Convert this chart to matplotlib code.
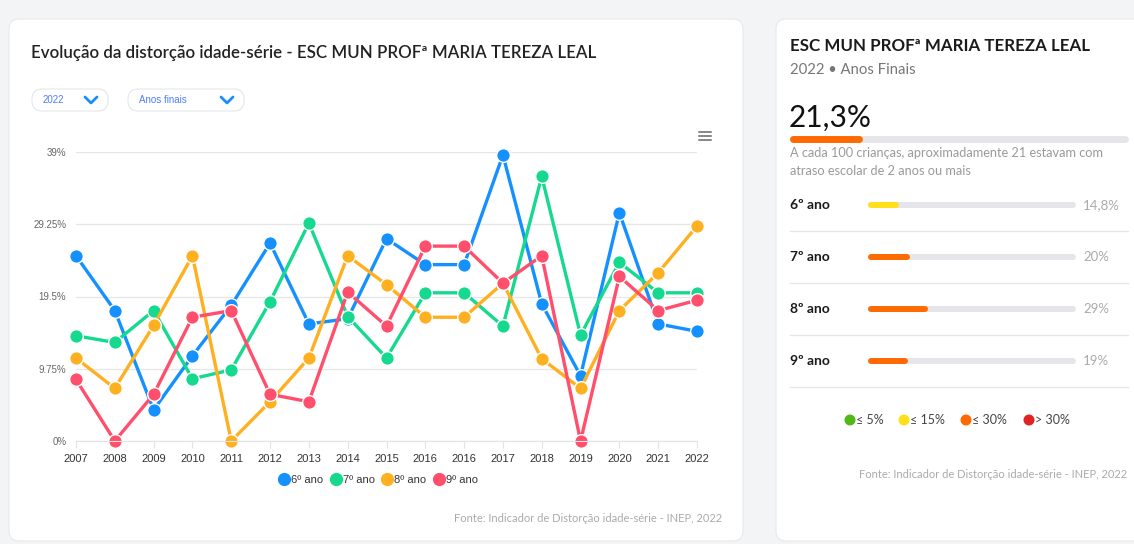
import matplotlib
matplotlib.use("Agg")
import matplotlib.pyplot as plt
from matplotlib.patches import FancyBboxPatch, Circle
from matplotlib.lines import Line2D

# ---------------- data ----------------
years = ["2007", "2008", "2009", "2010", "2011", "2012", "2013", "2014", "2015",
         "2016", "2016", "2017", "2018", "2019", "2020", "2021", "2022"]
ano6 = [25.0, 17.6, 4.2, 11.5, 18.3, 26.7, 15.8, 16.5, 27.3, 23.8, 23.8, 38.6, 18.5, 8.8, 30.8, 15.8, 14.8]
ano7 = [14.2, 13.3, 17.6, 8.4, 9.6, 18.8, 29.4, 16.8, 11.2, 20.0, 20.0, 15.5, 35.7, 14.3, 24.1, 20.0, 20.0]
ano8 = [11.2, 7.1, 15.6, 25.0, 0.0, 5.3, 11.2, 25.0, 21.1, 16.7, 16.7, 21.3, 11.1, 7.1, 17.6, 22.7, 29.0]
ano9 = [8.3, 0.0, 6.3, 16.7, 17.6, 6.3, 5.3, 20.1, 15.5, 26.3, 26.3, 21.3, 25.0, 0.0, 22.2, 17.6, 19.0]
series_names = ["6º ano", "7º ano", "8º ano", "9º ano"]
series_colors = ["#1491ff", "#14d98f", "#ffb020", "#ff4f6d"]
y_ticks = [0, 9.75, 19.5, 29.25, 39]
y_tick_labels = ["0%", "9.75%", "19.5%", "29.25%", "39%"]

school = "ESC MUN PROFª MARIA TEREZA LEAL"
total_2022 = 21.3
grades = ["6º ano", "7º ano", "8º ano", "9º ano"]
grade_values = [14.8, 20, 29, 19]
level_labels = ["≤ 5%", "≤ 15%", "≤ 30%", "> 30%"]
level_limits = [5, 15, 30, 1000]
level_colors = ["#52b81a", "#ffe01a", "#ff6a00", "#e02424"]

W, H = 1134, 544
fig = plt.figure(figsize=(W / 100, H / 100), dpi=100)
fig.patch.set_facecolor("#f3f4f6")

# overlay in pixel coordinates
bg = fig.add_axes([0, 0, 1, 1], zorder=0)
bg.set_xlim(0, W)
bg.set_ylim(H, 0)
bg.axis("off")

def card(x0, y0, x1, y1):
    bg.add_patch(FancyBboxPatch((x0, y0), x1 - x0, y1 - y0,
                                boxstyle="round,pad=0,rounding_size=10",
                                fc="white", ec="#e6e8ec", lw=0.8))

card(9, 19, 743, 541)
card(776, 19, 1150, 541)

FONT = ["Lato", "DejaVu Sans"]
TFONT = ["Liberation Sans", "DejaVu Sans"]

# ---------------- left card ----------------
bg.text(31, 53, "Evolução da distorção idade-série - " + school, fontsize=12.2,
        fontweight="semibold", color="#222222", family=FONT, va="center", ha="left")

def dropdown(x0, x1, label):
    bg.add_patch(FancyBboxPatch((x0, 89), x1 - x0, 22,
                                boxstyle="round,pad=0,rounding_size=10",
                                fc="white", ec="#e3e6ea", lw=0.8))
    bg.text(x0 + 11, 100, label, fontsize=7, color="#4f7dff", family=TFONT,
            va="center", ha="left")
    cx = x1 - 17
    bg.plot([cx - 6, cx, cx + 6], [97, 103, 97], color="#1a8cff", lw=2,
            solid_capstyle="round", solid_joinstyle="round")

dropdown(32, 108, "2022")
dropdown(128, 244, "Anos finais")

for yy in (132, 136, 140):
    bg.plot([699, 711], [yy, yy], color="#666666", lw=1.1)

bg.text(722, 518, "Fonte: Indicador de Distorção idade-série - INEP, 2022",
        fontsize=8, color="#aaaaaa", family=FONT, ha="right", va="center")

# chart axes
x0p, x1p, ytop, ybot = 76, 697, 152, 441
ax = fig.add_axes([x0p / W, (H - ybot) / H, (x1p - x0p) / W, (ybot - ytop) / H], zorder=2)
ax.patch.set_alpha(0)
xs = list(range(len(years)))
for vals, name, col in zip([ano6, ano7, ano8, ano9], series_names, series_colors):
    ax.plot(xs, vals, color=col, lw=2.4, marker="o", ms=9.8, mfc=col, mec="white",
            mew=1.0, clip_on=False, label=name, solid_joinstyle="round")
ax.set_xlim(0, len(years) - 1)
ax.set_ylim(0, 39)
ax.set_yticks(y_ticks)
ax.set_yticklabels(y_tick_labels, fontsize=7, color="#666666", family=TFONT)
ax.set_xticks(xs)
ax.set_xticklabels(years, fontsize=8, color="#333333", family=TFONT)
ax.grid(axis="y", color="#e6e6e6", lw=0.9)
ax.set_axisbelow(True)
for s in ("top", "right", "left"):
    ax.spines[s].set_visible(False)
ax.spines["bottom"].set_color("#dfe3ea")
ax.tick_params(axis="y", length=0, pad=7)
ax.tick_params(axis="x", length=5, color="#dfe3ea", pad=4)

handles = [Line2D([], [], ls="none", marker="o", ms=8.5, mfc=c, mec=c) for c in series_colors]
fig.legend(handles, series_names, loc="center", bbox_to_anchor=(378 / W, 1 - 480 / H),
           ncol=4, frameon=False, handletextpad=0.05, columnspacing=0.6,
           prop={"family": TFONT, "size": 8}, labelcolor="#333333", handlelength=1.1)

# ---------------- right card ----------------
bg.text(790, 46, school, fontsize=12.2, fontweight="bold", color="#1a1a1a",
        family=FONT, va="center", ha="left")
bg.text(790, 70, "2022 • Anos Finais", fontsize=10.7, color="#777777",
        family=FONT, va="center", ha="left")
bg.text(789, 118, f"{total_2022:.1f}%".replace(".", ","), fontsize=21.5, color="#111111",
        family=FONT, va="center", ha="left")

def level_color(v):
    for lim, c in zip(level_limits, level_colors):
        if v <= lim:
            return c
    return level_colors[-1]

def pbar(xa, xb, y, frac, color, lw):
    r = lw * 100 / 72 / 2
    bg.plot([xa + r, xb - r], [y, y], color="#e6e6ea", lw=lw, solid_capstyle="round")
    xe = xa + (xb - xa) * frac
    bg.plot([xa + r, max(xe - r, xa + r + 0.1)], [y, y], color=color, lw=lw,
            solid_capstyle="round")

pbar(790, 1128, 139, total_2022 / 100, level_color(total_2022), 5.0)
bg.text(790, 153, "A cada 100 crianças, aproximadamente 21 estavam com",
        fontsize=9.2, color="#9a9a9a", family=FONT, va="center", ha="left")
bg.text(790, 171, "atraso escolar de 2 anos ou mais",
        fontsize=9.2, color="#9a9a9a", family=FONT, va="center", ha="left")

row_y = [205, 257, 309, 361]
for g, v, yy in zip(grades, grade_values, row_y):
    bg.text(790, yy, g, fontsize=10, fontweight="bold", color="#1a1a1a",
            family=FONT, va="center", ha="left")
    pbar(868, 1076, yy, v / 100, level_color(v), 4.3)
    lab = (f"{v:.1f}%" if v != int(v) else f"{int(v)}%").replace(".", ",")
    bg.text(1083, yy, lab, fontsize=9.5, color="#aaaaaa", family=FONT,
            va="center", ha="left")
    bg.plot([790, 1128], [yy + 26, yy + 26], color="#e6e6e6", lw=0.9)

leg_x = [850, 904, 966, 1029]
for lx, lab, c in zip(leg_x, level_labels, level_colors):
    bg.add_patch(Circle((lx, 420), 5.5, fc=c, ec="none"))
    bg.text(lx + 6, 420, lab, fontsize=9, color="#444444", family=FONT,
            va="center", ha="left")

bg.text(1127, 475, "Fonte: Indicador de Distorção idade-série - INEP, 2022",
        fontsize=8, color="#aaaaaa", family=FONT, ha="right", va="center")

fig.savefig("out.png", dpi=100, facecolor=fig.get_facecolor())
